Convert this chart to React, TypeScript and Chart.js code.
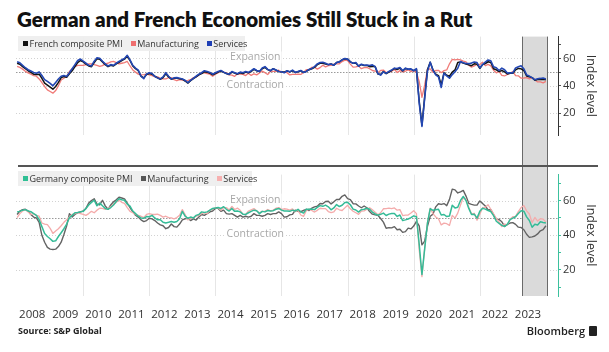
import React, { useEffect, useRef } from 'react';
import { Chart, registerables } from 'chart.js';

Chart.register(...registerables);

// ---------- data (monthly, Jan 2008 .. Jan 2024) ----------
const YEARS = ['2008', '2009', '2010', '2011', '2012', '2013', '2014', '2015', '2016', '2017', '2018', '2019', '2020', '2021', '2022', '2023'];

const FR_COMPOSITE = [
  56.5, 55.8, 54.0, 52.5, 51.0, 49.8, 48.5, 48.2, 48.5, 45.5, 42.0, 40.5,
  39.0, 37.5, 39.5, 42.5, 46.0, 46.8, 46.2, 48.8, 51.0, 54.0, 57.0, 58.5,
  57.5, 55.8, 54.5, 54.0, 57.0, 59.8, 59.5, 57.5, 55.5, 54.0, 55.0, 54.5,
  56.0, 57.2, 58.5, 59.5, 61.8, 58.5, 54.5, 52.5, 51.0, 47.0, 45.8, 48.2,
  49.0, 48.5, 47.0, 45.8, 44.8, 46.0, 48.8, 46.5, 44.8, 45.5, 45.5, 45.2,
  44.8, 43.5, 42.0, 43.8, 45.2, 46.5, 48.0, 49.0, 50.2, 50.0, 49.2, 48.0,
  49.0, 50.0, 50.8, 49.8, 49.0, 48.3, 50.0, 49.3, 48.5, 49.5, 49.0, 50.0,
  49.5, 50.5, 52.0, 51.0, 50.5, 52.5, 53.5, 51.8, 51.0, 52.5, 51.5, 50.5,
  50.3, 50.0, 50.8, 50.2, 51.0, 49.8, 50.3, 51.0, 49.8, 50.5, 51.8, 52.5,
  53.5, 55.5, 56.5, 56.5, 56.0, 55.5, 56.0, 55.0, 57.0, 57.5, 59.0, 59.8,
  59.5, 57.5, 56.5, 56.5, 54.5, 55.5, 54.8, 54.9, 54.0, 54.1, 54.2, 48.7,
  48.2, 50.4, 48.9, 50.1, 51.2, 52.7, 51.9, 52.9, 50.8, 52.6, 52.1, 52.0,
  51.1, 52.0, 28.9, 11.1, 32.1, 51.7, 57.3, 51.6, 48.5, 47.5, 40.6, 49.5,
  47.7, 47.0, 50.0, 51.6, 57.0, 57.4, 56.6, 55.9, 55.3, 54.7, 56.1, 55.8,
  52.7, 55.5, 56.3, 57.6, 57.0, 52.5, 51.7, 50.4, 51.2, 50.2, 48.7, 49.1,
  49.1, 51.7, 52.7, 52.4, 51.2, 47.2, 46.6, 46.0, 44.1, 44.6, 44.6, 44.8,
  44.5,
];

const FR_MANUFACTURING = [
  54.2, 53.5, 52.2, 50.6, 49.5, 48.5, 47.5, 47.0, 45.0, 42.4, 39.5, 37.0,
  35.8, 34.6, 36.5, 40.0, 44.2, 45.5, 47.0, 50.5, 52.5, 54.0, 55.0, 55.0,
  55.0, 55.5, 56.0, 56.0, 55.5, 55.0, 54.2, 54.8, 56.0, 56.5, 57.5, 57.8,
  57.0, 56.0, 56.5, 57.0, 57.8, 54.5, 51.6, 50.0, 48.5, 48.0, 48.2, 48.5,
  48.0, 47.5, 46.6, 46.5, 45.5, 45.0, 45.0, 46.0, 46.0, 44.5, 43.7, 44.5,
  44.2, 43.8, 44.0, 44.5, 46.0, 46.5, 48.0, 49.6, 49.5, 49.0, 48.5, 47.0,
  48.5, 49.5, 51.0, 50.0, 49.5, 48.0, 47.8, 46.9, 48.8, 48.5, 48.4, 47.5,
  49.2, 47.6, 48.8, 48.0, 49.4, 50.7, 49.6, 48.3, 50.6, 50.6, 50.6, 51.4,
  50.0, 50.2, 49.6, 48.0, 48.4, 48.3, 48.6, 48.3, 49.7, 51.8, 51.7, 53.5,
  53.6, 52.2, 53.3, 55.1, 53.8, 54.8, 54.9, 55.8, 56.1, 56.1, 57.7, 58.8,
  58.4, 55.9, 53.7, 53.8, 54.4, 52.5, 53.3, 53.5, 52.5, 51.2, 50.8, 49.7,
  51.2, 51.5, 49.7, 50.0, 50.6, 52.0, 49.7, 51.1, 50.1, 50.7, 51.7, 50.4,
  51.1, 49.8, 43.2, 31.5, 40.6, 52.3, 52.4, 49.8, 51.2, 51.3, 49.6, 51.1,
  51.6, 56.1, 59.3, 58.9, 59.4, 59.0, 58.0, 57.5, 55.0, 53.6, 54.6, 55.6,
  55.5, 57.2, 54.7, 55.7, 54.6, 51.4, 49.5, 50.6, 47.7, 47.2, 48.3, 49.2,
  50.5, 47.4, 47.3, 45.6, 45.7, 46.0, 45.1, 46.0, 44.2, 42.8, 42.9, 42.1,
  43.2,
];

const FR_SERVICES = [
  57.6, 56.8, 55.0, 53.2, 51.8, 50.8, 49.8, 49.2, 50.2, 47.5, 44.5, 43.2,
  41.8, 40.0, 42.5, 45.0, 47.0, 47.5, 46.8, 49.5, 52.5, 55.5, 58.5, 59.6,
  58.0, 56.5, 55.0, 54.5, 58.0, 60.5, 60.2, 58.0, 56.0, 54.5, 55.5, 55.0,
  56.5, 57.8, 59.0, 60.0, 62.3, 59.0, 55.0, 53.0, 51.5, 47.0, 45.2, 48.7,
  49.6, 49.0, 46.9, 45.8, 45.0, 46.5, 49.6, 47.0, 45.0, 45.8, 46.0, 45.5,
  45.0, 44.0, 42.4, 44.0, 45.5, 47.0, 48.5, 49.6, 51.0, 50.5, 49.8, 48.5,
  49.5, 50.5, 51.2, 50.0, 49.0, 48.5, 50.5, 49.5, 48.8, 50.0, 49.5, 50.5,
  49.8, 51.0, 52.5, 51.2, 50.5, 53.0, 54.0, 52.0, 51.0, 52.5, 51.6, 50.5,
  50.3, 49.5, 51.0, 50.2, 51.5, 49.8, 50.5, 51.2, 49.8, 50.5, 52.0, 52.7,
  54.0, 56.0, 57.0, 57.2, 56.5, 55.5, 56.0, 55.0, 57.0, 57.5, 59.0, 60.0,
  59.5, 57.5, 56.5, 57.0, 54.3, 55.8, 55.0, 55.2, 54.8, 55.3, 54.0, 49.0,
  47.8, 50.2, 49.1, 50.5, 51.5, 52.9, 52.6, 53.4, 51.1, 52.9, 52.2, 52.4,
  51.0, 52.5, 27.4, 10.2, 31.1, 50.7, 57.3, 51.5, 48.0, 46.5, 38.8, 49.1,
  47.3, 45.6, 48.2, 50.3, 52.8, 57.8, 56.8, 56.3, 56.2, 56.6, 57.4, 57.0,
  53.1, 55.5, 57.4, 58.9, 58.3, 53.9, 53.2, 51.2, 52.9, 51.7, 49.3, 49.5,
  49.4, 53.1, 53.9, 54.6, 52.5, 48.0, 47.1, 46.0, 44.4, 45.2, 45.4, 45.7,
  45.0,
];

const DE_COMPOSITE = [
  53.5, 53.8, 54.5, 54.8, 54.0, 53.6, 52.5, 51.5, 49.0, 45.0, 41.0, 39.3,
  38.0, 36.5, 36.8, 39.3, 41.5, 43.8, 46.5, 50.2, 51.5, 53.0, 53.2, 53.5,
  53.8, 55.5, 57.5, 59.0, 60.2, 57.0, 58.6, 57.0, 55.5, 55.0, 56.0, 57.5,
  59.5, 61.1, 60.5, 60.2, 58.0, 56.8, 54.0, 52.5, 51.0, 50.0, 49.8, 50.8,
  50.7, 51.5, 50.0, 48.9, 49.0, 47.5, 47.1, 47.5, 48.0, 47.5, 48.0, 49.5,
  53.8, 51.0, 49.8, 50.5, 50.0, 51.5, 52.0, 53.5, 53.2, 53.5, 54.5, 55.5,
  55.7, 56.0, 55.5, 56.5, 55.0, 54.0, 55.5, 53.8, 54.0, 53.5, 52.2, 52.0,
  53.0, 53.8, 54.5, 54.2, 52.5, 53.8, 53.5, 54.3, 54.0, 54.2, 55.0, 55.5,
  54.5, 54.0, 54.0, 53.8, 54.5, 54.0, 55.0, 53.5, 52.8, 55.0, 55.0, 55.2,
  54.8, 56.1, 57.1, 56.7, 57.4, 56.4, 54.7, 55.8, 57.7, 56.6, 57.3, 58.9,
  59.0, 57.6, 55.1, 54.6, 53.4, 54.8, 55.0, 55.6, 55.0, 53.4, 52.3, 51.6,
  52.1, 52.8, 51.4, 52.2, 52.6, 52.6, 50.9, 51.7, 48.5, 48.9, 49.4, 50.2,
  51.2, 50.7, 35.0, 17.4, 32.3, 47.0, 55.3, 54.4, 54.7, 55.0, 51.7, 52.0,
  50.8, 51.1, 57.3, 55.8, 56.2, 60.1, 62.4, 60.0, 55.5, 52.0, 52.2, 49.9,
  53.8, 55.6, 55.1, 54.3, 53.7, 51.3, 48.1, 46.9, 45.7, 45.1, 46.3, 49.0,
  49.9, 50.7, 52.6, 54.2, 53.9, 50.6, 48.5, 44.6, 46.4, 45.9, 47.8, 47.4,
  47.1,
];

const DE_MANUFACTURING = [
  52.0, 54.0, 54.8, 55.0, 54.0, 52.0, 50.5, 50.0, 47.5, 40.0, 36.0, 33.0,
  32.0, 31.8, 32.0, 33.5, 36.0, 40.5, 45.5, 52.5, 50.5, 52.0, 53.0, 53.5,
  54.0, 55.5, 58.6, 60.0, 61.1, 58.0, 57.5, 60.2, 57.0, 55.0, 57.5, 59.3,
  60.5, 62.0, 61.5, 61.0, 58.5, 56.0, 53.5, 51.6, 50.5, 48.9, 47.9, 48.5,
  49.8, 49.5, 48.5, 47.1, 46.0, 45.5, 43.8, 44.5, 46.5, 45.0, 44.7, 46.5,
  48.9, 49.5, 49.8, 48.5, 49.5, 48.8, 50.5, 52.0, 51.5, 52.5, 53.5, 54.0,
  55.5, 55.5, 53.8, 54.5, 52.5, 52.2, 52.5, 51.5, 50.5, 51.5, 50.5, 51.0,
  50.5, 51.0, 52.5, 51.5, 51.5, 51.0, 51.5, 52.5, 52.0, 52.5, 52.5, 53.5,
  52.5, 50.5, 50.7, 51.8, 52.1, 54.5, 53.8, 53.6, 54.3, 55.0, 54.3, 55.6,
  56.4, 56.8, 58.3, 58.2, 59.5, 59.6, 58.1, 59.3, 60.6, 60.6, 62.5, 63.3,
  61.1, 60.6, 58.2, 58.1, 56.9, 55.9, 56.9, 55.9, 53.7, 52.2, 51.8, 51.5,
  49.7, 47.6, 44.1, 44.4, 44.3, 45.0, 43.2, 43.5, 41.7, 42.1, 44.1, 43.7,
  45.3, 48.0, 45.4, 34.5, 36.6, 45.2, 51.0, 52.2, 56.4, 58.2, 57.8, 58.3,
  57.1, 60.7, 66.6, 66.2, 64.4, 65.1, 65.9, 62.6, 58.4, 57.8, 57.4, 57.4,
  59.8, 58.4, 56.9, 54.6, 54.8, 52.0, 49.3, 49.1, 47.8, 45.1, 46.2, 47.1,
  47.3, 46.3, 44.7, 44.5, 43.2, 40.6, 38.8, 39.1, 39.6, 40.8, 42.6, 43.3,
  45.5,
];

const DE_SERVICES = [
  50.2, 52.5, 54.0, 54.8, 53.5, 52.0, 52.5, 51.5, 51.0, 47.1, 46.5, 46.2,
  44.0, 41.1, 42.5, 43.8, 45.5, 47.5, 49.0, 50.5, 52.0, 52.5, 53.0, 52.5,
  52.0, 51.5, 52.5, 53.8, 53.0, 54.5, 55.6, 55.5, 55.0, 55.6, 56.5, 58.0,
  59.0, 60.2, 59.0, 58.4, 56.0, 53.8, 53.0, 52.0, 51.5, 51.0, 50.2, 52.0,
  52.5, 52.0, 52.0, 52.2, 51.5, 50.5, 51.0, 50.2, 50.0, 49.5, 50.2, 51.5,
  54.8, 52.0, 48.9, 50.0, 50.2, 51.0, 51.5, 52.5, 53.0, 52.5, 54.5, 55.0,
  56.0, 55.8, 54.5, 56.0, 56.0, 54.6, 56.7, 54.9, 55.7, 54.4, 52.1, 52.1,
  54.0, 54.7, 55.4, 54.0, 53.0, 53.8, 53.8, 54.9, 54.1, 54.5, 55.6, 56.0,
  55.0, 55.3, 55.1, 54.5, 55.2, 53.7, 54.4, 51.7, 50.9, 54.2, 55.1, 54.3,
  53.4, 54.4, 55.6, 55.4, 55.4, 53.7, 53.1, 53.5, 55.6, 54.7, 54.3, 55.8,
  57.3, 55.3, 53.9, 53.0, 52.1, 53.9, 54.1, 55.0, 55.9, 54.7, 53.3, 51.8,
  53.0, 55.3, 55.4, 55.7, 55.4, 55.8, 54.5, 54.8, 51.4, 51.6, 51.7, 52.9,
  54.2, 52.5, 31.7, 16.2, 32.6, 47.3, 55.6, 52.5, 50.6, 49.5, 46.0, 47.0,
  46.7, 45.7, 51.5, 49.9, 52.8, 57.5, 61.8, 60.8, 56.2, 52.4, 52.7, 48.7,
  52.2, 55.8, 56.1, 57.6, 55.0, 52.4, 49.7, 47.7, 45.0, 46.5, 46.1, 49.2,
  50.7, 50.9, 53.7, 56.0, 57.2, 54.1, 52.3, 47.3, 50.3, 48.2, 49.6, 49.3,
  47.6,
];

const Y_TICKS = [10, 20, 30, 40, 50, 60, 70];
const Y_LABELED = [20, 40, 60];
const GRID_MONTHS = [24, 48, 72, 96, 120, 144, 168]; // January of even years
const SHADE_START = 183.3; // month index
const SHADE_END = 192.5;
const X_MIN = -0.4;
const X_MAX = 196.4;

const FONT = '"Open Sans", "DejaVu Sans", sans-serif';
Chart.defaults.font.family = FONT;

type Series = { label: string; values: number[]; color: string; width: number; order: number };
type Panel = {
  series: Series[];
  yMin: number;
  yMax: number;
  axisColor: string;
  tickColor: string;
  showYears: boolean;
  padding: { left: number; right: number; top: number; bottom: number };
  shadeToBottomEdge: boolean;
};

function decorPlugin(panel: Panel) {
  return {
    id: 'decor',
    beforeDatasetsDraw(chart: any) {
      const { ctx, chartArea: a, scales } = chart;
      const xs = scales.x;
      const ys = scales.y;
      ctx.save();
      // vertical grid
      ctx.strokeStyle = '#e6e6e6';
      ctx.lineWidth = 1;
      GRID_MONTHS.forEach((m) => {
        const px = Math.round(xs.getPixelForValue(m)) + 0.5;
        ctx.beginPath();
        ctx.moveTo(px, a.top);
        ctx.lineTo(px, a.bottom);
        ctx.stroke();
      });
      // horizontal dotted grid
      [20, 40, 60].forEach((v) => {
        const py = Math.round(ys.getPixelForValue(v)) + 0.5;
        ctx.strokeStyle = '#d2d2d2';
        ctx.setLineDash([1, 2]);
        ctx.beginPath();
        ctx.moveTo(a.left, py);
        ctx.lineTo(a.right, py);
        ctx.stroke();
      });
      {
        const py = Math.round(ys.getPixelForValue(50)) + 0.5;
        ctx.strokeStyle = '#9a9a9a';
        ctx.setLineDash([1.5, 1.5]);
        ctx.beginPath();
        ctx.moveTo(a.left, py);
        ctx.lineTo(a.right, py);
        ctx.stroke();
      }
      ctx.setLineDash([]);
      // shaded period
      const x1 = Math.round(xs.getPixelForValue(SHADE_START)) + 0.5;
      const x2 = Math.round(xs.getPixelForValue(SHADE_END)) + 0.5;
      const top = panel.shadeToBottomEdge ? a.top : 0;
      const bottom = panel.shadeToBottomEdge ? chart.height : a.bottom;
      ctx.fillStyle = '#dadada';
      ctx.fillRect(x1, top, x2 - x1, bottom - top);
      ctx.strokeStyle = '#6a6a6a';
      ctx.lineWidth = 1;
      [x1, x2].forEach((px) => {
        ctx.beginPath();
        ctx.moveTo(px, top);
        ctx.lineTo(px, bottom);
        ctx.stroke();
      });
      // Expansion / Contraction labels
      ctx.font = '10.5px ' + FONT;
      ctx.textAlign = 'center';
      ctx.textBaseline = 'middle';
      const lx = xs.getPixelForValue(86.5);
      [
        { t: 'Expansion', v: 60 },
        { t: 'Contraction', v: 40 },
      ].forEach(({ t, v }) => {
        const py = ys.getPixelForValue(v) - 1;
        const w = ctx.measureText(t).width;
        ctx.fillStyle = '#ffffff';
        ctx.fillRect(lx - w / 2 - 1, py - 6, w + 2, 12);
        ctx.fillStyle = '#a8a8a8';
        ctx.fillText(t, lx, py);
      });
      ctx.restore();
    },
  };
}

function buildConfig(panel: Panel): any {
  return {
    type: 'line',
    data: {
      datasets: panel.series.map((s) => ({
        label: s.label,
        data: s.values.map((v, i) => ({ x: i, y: v })),
        borderColor: s.color,
        backgroundColor: s.color,
        borderWidth: s.width,
        pointRadius: 0,
        tension: 0,
        fill: false,
        order: s.order,
        borderJoinStyle: 'round',
      })),
    },
    options: {
      responsive: false,
      animation: false,
      events: [],
      layout: { padding: panel.padding },
      plugins: { legend: { display: false }, tooltip: { enabled: false }, title: { display: false } },
      scales: {
        x: {
          type: 'linear',
          min: X_MIN,
          max: X_MAX,
          display: panel.showYears,
          position: 'bottom',
          afterBuildTicks: (s: any) => {
            s.ticks = YEARS.map((_, i) => ({ value: 5.5 + 12 * i }));
          },
          afterFit: (s: any) => {
            s.height = 30;
          },
          grid: { display: false, drawTicks: false },
          border: { display: false },
          ticks: {
            autoSkip: false,
            maxRotation: 0,
            minRotation: 0,
            padding: 12,
            color: '#333',
            font: { size: 11.5, family: '"Liberation Sans Narrow", "Open Sans", sans-serif' },
            callback: (_v: any, i: number) => YEARS[i],
          },
        },
        y: {
          type: 'linear',
          position: 'right',
          min: panel.yMin,
          max: panel.yMax,
          afterBuildTicks: (s: any) => {
            s.ticks = Y_TICKS.map((v) => ({ value: v }));
          },
          afterFit: (s: any) => {
            s.width = 51;
          },
          grid: { drawOnChartArea: false, drawTicks: true, tickLength: 3, tickColor: panel.tickColor, tickWidth: 1 },
          border: { display: true, color: panel.axisColor, width: 1 },
          ticks: {
            padding: 2,
            color: '#333',
            font: { size: 11 },
            callback: (v: any) => (Y_LABELED.includes(Number(v)) ? String(v) : ''),
          },
          title: {
            display: true,
            text: 'Index level',
            color: '#333',
            font: { size: 12.5 },
            padding: { top: 11, bottom: 0 },
          },
        },
      },
    },
    plugins: [decorPlugin(panel)],
  };
}

const TOP_PANEL: Panel = {
  series: [
    { label: 'French composite PMI', values: FR_COMPOSITE, color: '#141414', width: 1.5, order: 1 },
    { label: 'Manufacturing', values: FR_MANUFACTURING, color: '#f07b78', width: 1.3, order: 2 },
    { label: 'Services', values: FR_SERVICES, color: '#2347b3', width: 1.6, order: 0 },
  ],
  yMin: 4,
  yMax: 76,
  axisColor: '#333333',
  tickColor: '#555555',
  showYears: false,
  padding: { left: 16, right: 0, top: 5, bottom: 3 },
  shadeToBottomEdge: true,
};

const BOTTOM_PANEL: Panel = {
  series: [
    { label: 'Germany composite PMI', values: DE_COMPOSITE, color: '#35bb97', width: 1.5, order: 0 },
    { label: 'Manufacturing', values: DE_MANUFACTURING, color: '#636363', width: 1.4, order: 2 },
    { label: 'Services', values: DE_SERVICES, color: '#f4abab', width: 1.3, order: 1 },
  ],
  yMin: 5,
  yMax: 75,
  axisColor: '#3cc19e',
  tickColor: '#3cc19e',
  showYears: true,
  padding: { left: 16, right: 0, top: 2, bottom: 0 },
  shadeToBottomEdge: false,
};

function Legend({ items, top, width }: { items: { label: string; color: string }[]; top: number; width: number }) {
  return (
    <div
      style={{
        position: 'absolute',
        left: 18,
        top,
        width,
        height: 15,
        background: 'rgba(238,238,238,0.95)',
        display: 'flex',
        alignItems: 'center',
        fontFamily: FONT,
        fontSize: 9,
        color: '#333',
        paddingLeft: 5,
        boxSizing: 'border-box',
        whiteSpace: 'nowrap',
        zIndex: 2,
      }}
    >
      {items.map((it) => (
        <span key={it.label} style={{ display: 'inline-flex', alignItems: 'center', marginRight: 8 }}>
          <span style={{ width: 5, height: 5, background: it.color, marginRight: 1.5, display: 'inline-block' }} />
          {it.label}
        </span>
      ))}
    </div>
  );
}

export default function App() {
  const topRef = useRef<HTMLCanvasElement>(null);
  const botRef = useRef<HTMLCanvasElement>(null);

  useEffect(() => {
    const c1 = new Chart(topRef.current as HTMLCanvasElement, buildConfig(TOP_PANEL));
    const c2 = new Chart(botRef.current as HTMLCanvasElement, buildConfig(BOTTOM_PANEL));
    return () => {
      c1.destroy();
      c2.destroy();
    };
  }, []);

  return (
    <div
      style={{
        position: 'absolute',
        left: 0,
        top: 0,
        width: 609,
        height: 352,
        background: '#fff',
        overflow: 'hidden',
        fontFamily: FONT,
      }}
    >
      <div
        style={{
          position: 'absolute',
          left: 17,
          top: 8,
          fontFamily: 'Lato, "Open Sans", sans-serif',
          fontWeight: 800,
          fontSize: 20.5,
          lineHeight: '23px',
          color: '#111',
          whiteSpace: 'nowrap',
        }}
      >
        German and French Economies Still Stuck in a Rut
      </div>

      <canvas ref={topRef} width={609} height={140} style={{ position: 'absolute', left: 0, top: 28, width: 609, height: 140 }} />
      <Legend
        top={36}
        width={227}
        items={[
          { label: 'French composite PMI', color: '#111' },
          { label: 'Manufacturing', color: '#ef6f6f' },
          { label: 'Services', color: '#1f3fb5' },
        ]}
      />

      <canvas ref={botRef} width={609} height={160} style={{ position: 'absolute', left: 0, top: 166, width: 609, height: 160 }} />
      <div style={{ position: 'absolute', left: 18, top: 165, width: 580, height: 2, background: '#555', zIndex: 3 }} />
      <Legend
        top={171}
        width={234}
        items={[
          { label: 'Germany composite PMI', color: '#2fbf94' },
          { label: 'Manufacturing', color: '#555' },
          { label: 'Services', color: '#f7b0b0' },
        ]}
      />

      <div
        style={{
          position: 'absolute',
          left: 18,
          top: 325,
          fontFamily: FONT,
          fontWeight: 700,
          fontSize: 9,
          lineHeight: '12px',
          color: '#222',
        }}
      >
        Source: S&amp;P Global
      </div>
      <div
        style={{
          position: 'absolute',
          right: 12,
          top: 324,
          display: 'flex',
          alignItems: 'center',
          fontFamily: FONT,
          fontWeight: 600,
          fontSize: 11,
          lineHeight: '14px',
          color: '#222',
        }}
      >
        Bloomberg
        <span style={{ display: 'inline-block', width: 8, height: 10, background: '#222', marginLeft: 4, borderRadius: 1 }} />
      </div>
    </div>
  );
}
